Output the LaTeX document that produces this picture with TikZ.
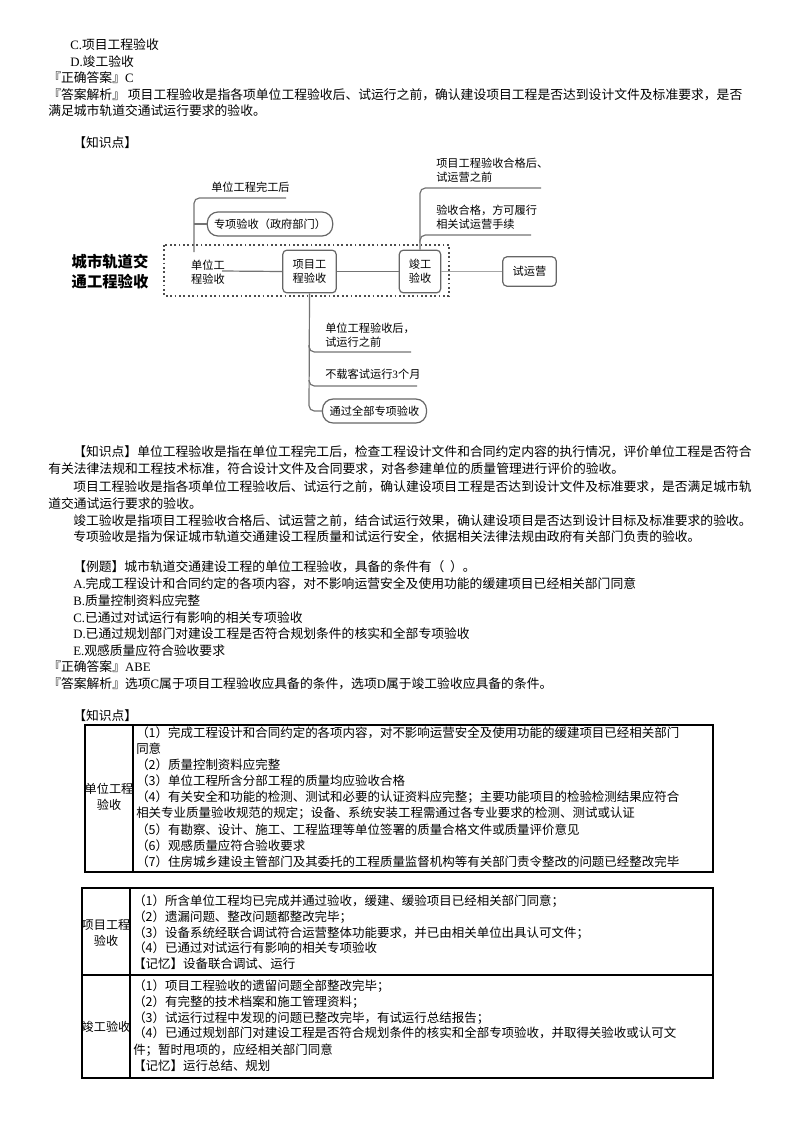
\documentclass[tikz,border=0pt]{standalone}
\usepackage{fontspec}
\setmainfont{Noto Sans CJK SC}
\newfontfamily\lat{Liberation Serif}
\begin{document}
\begin{tikzpicture}[x=0.75pt,y=-0.75pt,
  every node/.style={inner sep=0pt,font=\fontsize{9.6}{11.5}\selectfont},
  tl/.style={anchor=west},
  tt/.style={anchor=west,font=\fontsize{9.35}{11.5}\selectfont},
  lb/.style={align=center,font=\fontsize{9.1}{12}\selectfont},
  dl/.style={draw=black!55,line width=0.9pt},
  bx/.style={draw=black!60,line width=0.9pt,rounded corners=3pt},
  dg/.style={font=\fontsize{8.4}{10.5}\selectfont,align=left}]
\useasboundingbox (0,0) rectangle (800,1132);
% top text
\node[tl] (a1) at (70,45) {{\lat C.}项目工程验收};
\node[tl] (a2) at (70,62) {{\lat D.}竣工验收};
\node[tl] (a3) at (48,78) {『正确答案』{\lat C}};
\node[tl] (a4) at (48,95) {『答案解析』 项目工程验收是指各项单位工程验收后、试运行之前，确认建设项目工程是否达到设计文件及标准要求，是否};
\node[tl] (a5) at (48,111) {满足城市轨道交通试运行要求的验收。};
\node[tl] (a6) at (73,143) {【知识点】};
% diagram
\node[font=\fontsize{11.5}{15}\selectfont\bfseries,align=center] (title) at (110,272) {城市轨道交\\通工程验收};
\draw[black!70,line width=1.3pt,dotted] (164,245) rectangle (449,296);
\node[dg] (unit) at (208,272) {单位工\\程验收};
\node[bx,dg,minimum width=40pt,minimum height=32pt,align=center] (proj) at (309.5,271.5) {项目工\\程验收};
\node[bx,dg,minimum width=31pt,minimum height=32pt,align=center] (comp) at (420,271.5) {竣工\\验收};
\node[bx,dg,minimum width=40pt,minimum height=22pt] (trial) at (529.5,271.5) {试运营};
\draw[dl] (222,271) -- (proj.west);
\draw[dl] (proj.east) -- (comp.west);
\draw[black!35,line width=0.9pt] (comp.east) -- (trial.west);
% upper left
\node[bx,dg,rounded corners=8pt,minimum width=94pt,minimum height=18pt] (spec) at (270,224) {专项验收（政府部门）};
\node[dg,anchor=west] (t1) at (211,187) {单位工程完工后};
\coordinate (ul) at (286,198);
\draw[dl,rounded corners=4pt] (194,252) -- (194,198) -- (ul);
\draw[dl,rounded corners=4pt] (194,224) -- (spec.west);
% upper right
\node[dg,anchor=west] (t2) at (436,170) {项目工程验收合格后、\\试运营之前};
\node[dg,anchor=west] (t3) at (436,217) {验收合格，方可履行\\相关试运营手续};
\coordinate (ur1) at (541,188);
\coordinate (ur2) at (531,235);
\draw[dl,rounded corners=4pt] (comp.north) -- (420,188) -- (ur1);
\draw[dl,rounded corners=4pt] (420,240) -- (420,235) -- (ur2);
% bottom
\node[bx,dg,rounded corners=8pt,minimum width=78pt,minimum height=18pt] (all) at (374.5,411) {通过全部专项验收};
\node[dg,anchor=west] (t4) at (325,335) {单位工程验收后，\\试运行之前};
\node[dg,anchor=west] (t5) at (325,374) {不载客试运行{\lat 3}个月};
\coordinate (b1) at (411,352);
\coordinate (b2) at (417,386);
\draw[dl,rounded corners=4pt] (proj.south) -- (309,411) -- (all.west);
\draw[dl,rounded corners=4pt] (309,345) -- (309,352) -- (b1);
\draw[dl,rounded corners=4pt] (309,380) -- (309,386) -- (b2);
% paragraphs
\node[tl] (p1) at (73,452) {【知识点】单位工程验收是指在单位工程完工后，检查工程设计文件和合同约定内容的执行情况，评价单位工程是否符合};
\node[tl] (p2) at (48,469) {有关法律法规和工程技术标准，符合设计文件及合同要求，对各参建单位的质量管理进行评价的验收。};
\node[tl] (p3) at (73,487) {项目工程验收是指各项单位工程验收后、试运行之前，确认建设项目工程是否达到设计文件及标准要求，是否满足城市轨};
\node[tl] (p4) at (48,504) {道交通试运行要求的验收。};
\node[tl] (p5) at (73,521) {竣工验收是指项目工程验收合格后、试运营之前，结合试运行效果，确认建设项目是否达到设计目标及标准要求的验收。};
\node[tl] (p6) at (73,537) {专项验收是指为保证城市轨道交通建设工程质量和试运行安全，依据相关法律法规由政府有关部门负责的验收。};
\node[tl] (e0) at (73,567) {【例题】城市轨道交通建设工程的单位工程验收，具备的条件有（~~）。};
\node[tl] (e1) at (73,584) {{\lat A.}完成工程设计和合同约定的各项内容，对不影响运营安全及使用功能的缓建项目已经相关部门同意};
\node[tl] (e2) at (73,601) {{\lat B.}质量控制资料应完整};
\node[tl] (e3) at (73,618) {{\lat C.}已通过对试运行有影响的相关专项验收};
\node[tl] (e4) at (73,634) {{\lat D.}已通过规划部门对建设工程是否符合规划条件的核实和全部专项验收};
\node[tl] (e5) at (73,651) {{\lat E.}观感质量应符合验收要求};
\node[tl] (e6) at (48,667) {『正确答案』{\lat ABE}};
\node[tl] (e7) at (48,684) {『答案解析』选项{\lat C}属于项目工程验收应具备的条件，选项{\lat D}属于竣工验收应具备的条件。};
\node[tl] (k2) at (73,716) {【知识点】};
% table 1
\draw[line width=0.9pt] (85,725) rectangle (713,872);
\draw[line width=0.9pt] (133,725) -- (133,872);
\node[lb] (l1) at (109,797) {单位工程\\验收};
\foreach \y/\t in {733/（1）完成工程设计和合同约定的各项内容，对不影响运营安全及使用功能的缓建项目已经相关部门,
  749/同意,
  765/（2）质量控制资料应完整,
  781/（3）单位工程所含分部工程的质量均应验收合格,
  797/（4）有关安全和功能的检测、测试和必要的认证资料应完整；主要功能项目的检验检测结果应符合,
  813/相关专业质量验收规范的规定；设备、系统安装工程需通过各专业要求的检测、测试或认证,
  830/（5）有勘察、设计、施工、工程监理等单位签署的质量合格文件或质量评价意见,
  846/（6）观感质量应符合验收要求,
  862/（7）住房城乡建设主管部门及其委托的工程质量监督机构等有关部门责令整改的问题已经整改完毕}
  \node[tt] at (136,\y) {\t};
% table 2
\draw[line width=0.9pt] (82,888) rectangle (713,1078);
\draw[line width=0.9pt] (130,888) -- (130,1078);
\draw[line width=0.9pt] (82,975) -- (713,975);
\node[lb] (l2) at (106,933) {项目工程\\验收};
\node[lb] (l3) at (106,1027) {竣工验收};
\foreach \y/\t in {901/（1）所含单位工程均已完成并通过验收，缓建、缓验项目已经相关部门同意；,
  917/（2）遗漏问题、整改问题都整改完毕；,
  933/（3）设备系统经联合调试符合运营整体功能要求，并已由相关单位出具认可文件；,
  948/（4）已通过对试运行有影响的相关专项验收,
  964/【记忆】设备联合调试、运行,
  986/（1）项目工程验收的遗留问题全部整改完毕；,
  1002/（2）有完整的技术档案和施工管理资料；,
  1018/（3）试运行过程中发现的问题已整改完毕，有试运行总结报告；,
  1033/（4）已通过规划部门对建设工程是否符合规划条件的核实和全部专项验收，并取得关验收或认可文,
  1050/件；暂时甩项的，应经相关部门同意,
  1066/【记忆】运行总结、规划}
  \node[tt] at (133,\y) {\t};
\end{tikzpicture}
\end{document}
